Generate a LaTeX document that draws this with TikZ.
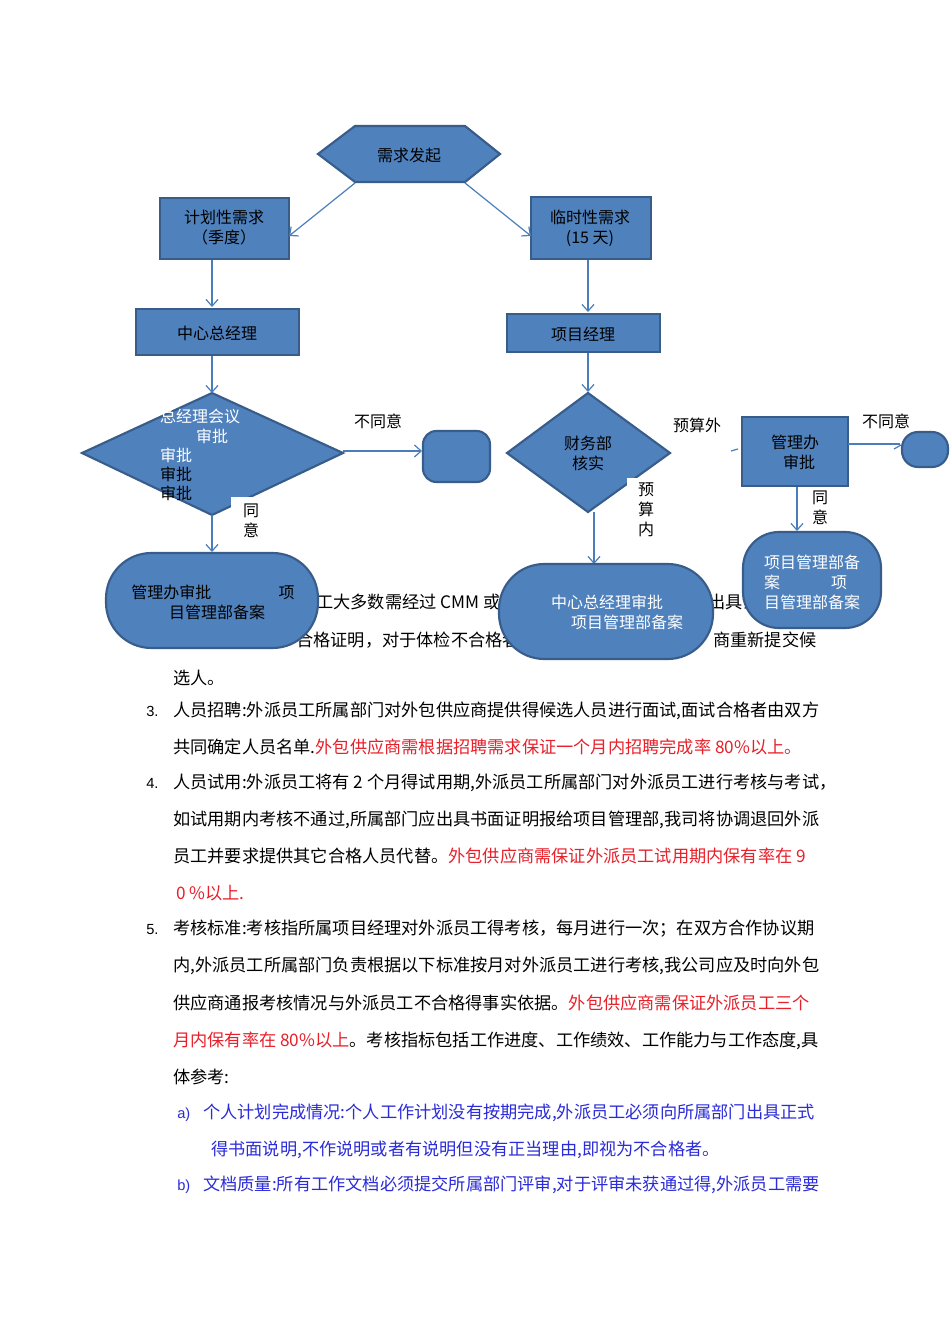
\documentclass[tikz,border=0pt]{standalone}
\usepackage{fontspec}
\setmainfont{Liberation Sans}
\newfontfamily\cjk{Noto Sans CJK SC}
\definecolor{fillb}{HTML}{4F81BD}
\definecolor{edgeb}{HTML}{385D8A}
\definecolor{linkb}{HTML}{4A7EBB}
\definecolor{redt}{HTML}{E8202A}
\definecolor{bluet}{HTML}{2B2BD9}
\begin{document}
\begin{tikzpicture}[x=0.75pt,y=-0.75pt,
 shp/.style={fill=fillb,draw=edgeb,line width=1.6pt},
 lnk/.style={draw=linkb,line width=0.9pt,-{Straight Barb[length=5pt,width=9pt]}},
 ft/.style={font=\cjk\fontsize{12}{15}\selectfont,inner sep=0pt,align=center},
 wt/.style={ft,text=white},
 bt/.style={font=\cjk\fontsize{12.9}{17}\selectfont,inner sep=0pt,anchor=base west},
 num/.style={font=\fontsize{11}{14}\selectfont,inner sep=0pt,anchor=base west}]
\usetikzlibrary{arrows.meta}
\useasboundingbox (0,0) rectangle (950,1344);
\fill[white] (0,0) rectangle (950,1344);
% hidden body text behind shapes
\node[bt] (h1) at (316,608) {工大多数需经过 CMM 或质};
\node[bt] (h2) at (708,608) {出具证};
\node[bt] (h3) at (296,646) {合格证明，对于体检不合格者};
\node[bt] (h4) at (713,646) {商重新提交候};
\node[bt] (h5) at (173,684) {选人。};
% shapes
\draw[shp] (318,154)--(355,126)--(465,126)--(500,154)--(465,182)--(355,182)--cycle;
\node[ft] (start) at (409,155) {需求发起};
\draw[shp] (160,198) rectangle (289,259);
\node[ft] (plan) at (224,228) {计划性需求\\（季度）};
\draw[shp] (531,197) rectangle (651,259);
\node[ft] (temp) at (590,228) {临时性需求\\(15 天)};
\coordinate (s1) at (355,183); \coordinate (p1) at (289,236);
\coordinate (s2) at (465,183); \coordinate (t1) at (531,236);
\draw[lnk] (s1)--(p1); \draw[lnk] (s2)--(t1);
\draw[shp] (136,309) rectangle (299,355);
\node[ft] (cgm) at (217,333) {中心总经理};
\draw[shp] (507,314) rectangle (660,352);
\node[ft] (pm) at (583,334) {项目经理};
\draw[lnk] (212,260)--(212,307);
\draw[lnk] (588,260)--(588,312);
% diamond 1
\draw[shp] (82,453)--(212,393)--(343,453)--(212,515)--cycle;
\draw[lnk] (212,356)--(212,393);
\node[wt] (d1a) at (200,416) {总经理会议};
\node[wt] (d1b) at (212,436) {审批};
\node[wt] (d1c) at (176,455) {审批};
\node[ft] (d1d) at (176,474) {审批};
\node[ft] (d1e) at (176,493) {审批};
\fill[white] (231,497) rectangle (262,519);
\node[ft] (ag1) at (251,521) {同\\意};
\node[ft] (dis1) at (378,421) {不同意};
\draw[shp,rounded corners=10pt] (423,431) rectangle (490,482);
\draw[lnk] (343,451)--(422,451);
\draw[lnk] (212,515)--(212,552);
\draw[shp,rounded corners=34pt] (106,553) rectangle (318,648);
\node[ft] (ga) at (213,602) {管理办审批\hspace{4.2em}项\\\hspace{0.5em}目管理部备案};
% diamond 2
\draw[shp] (507,453)--(588,393)--(670,453)--(588,512)--cycle;
\draw[lnk] (588,353)--(588,392);
\node[ft] (fin) at (588,453) {财务部\\核实};
\fill[white] (627,478) rectangle (650,520);
\node[ft] (yn) at (646,510) {预\\算\\内};
\draw[lnk] (594,512)--(594,564);
\draw[shp,rounded corners=34pt] (499,564) rectangle (713,659);
\node[wt] (cga) at (607,612) {中心总经理审批\hspace{3em}\\\hspace{2.5em}项目管理部备案};
\node[ft] (yw) at (697,425) {预算外};
\draw[linkb,line width=0.9pt] (731,451)--(738,449);
\draw[shp] (742,417) rectangle (848,486);
\node[ft] (gb) at (795,452) {管理办\\\hspace{0.5em}审批};
\node[ft] (dis2) at (886,421) {不同意};
\draw[shp,rounded corners=12pt] (902,432) rectangle (948,467);
\draw[linkb,line width=0.9pt] (848,444)--(900,444);
\draw[linkb,line width=0.9pt] (894,449)--(901,445);
\draw[lnk] (797,487)--(797,531);
\node[ft] (ag2) at (820,508) {同\\意};
\draw[shp,rounded corners=27pt] (743,532) rectangle (881,628);
\node[wt,align=left] (pr) at (812,582) {项目管理部备\\案\hspace{3.2em}项\\目管理部备案};
% body text
\node[num] (n3) at (146,716) {3.};
\node[bt] (l1) at (173,716) {人员招聘:外派员工所属部门对外包供应商提供得候选人员进行面试,面试合格者由双方};
\node[bt] (l2) at (173,753) {共同确定人员名单.\textcolor{redt}{外包供应商需根据招聘需求保证一个月内招聘完成率 80\%以上。}};
\node[num] (n4) at (146,788) {4.};
\node[bt] (l3) at (173,788) {人员试用:外派员工将有 2 个月得试用期,外派员工所属部门对外派员工进行考核与考试，};
\node[bt] (l4) at (173,825) {如试用期内考核不通过,所属部门应出具书面证明报给项目管理部,我司将协调退回外派};
\node[bt] (l5) at (173,862) {员工并要求提供其它合格人员代替。\textcolor{redt}{外包供应商需保证外派员工试用期内保有率在 9}};
\node[bt,text=redt] (l6) at (176,899) {0 \%以上.};
\node[num] (n5) at (146,934) {5.};
\node[bt] (l7) at (173,934) {考核标准:考核指所属项目经理对外派员工得考核，每月进行一次；在双方合作协议期};
\node[bt] (l8) at (173,971) {内,外派员工所属部门负责根据以下标准按月对外派员工进行考核,我公司应及时向外包};
\node[bt] (l9) at (173,1009) {供应商通报考核情况与外派员工不合格得事实依据。\textcolor{redt}{外包供应商需保证外派员工三个}};
\node[bt] (l10) at (173,1046) {\textcolor{redt}{月内保有率在 80\%以上}。考核指标包括工作进度、工作绩效、工作能力与工作态度,具};
\node[bt] (l11) at (173,1083) {体参考:};
\node[num,text=bluet] (na) at (177,1118) {a)};
\node[bt,text=bluet] (l12) at (203,1118) {个人计划完成情况:个人工作计划没有按期完成,外派员工必须向所属部门出具正式};
\node[bt,text=bluet] (l13) at (211,1155) {得书面说明,不作说明或者有说明但没有正当理由,即视为不合格者。};
\node[num,text=bluet] (nb) at (177,1190) {b)};
\node[bt,text=bluet] (l14) at (203,1190) {文档质量:所有工作文档必须提交所属部门评审,对于评审未获通过得,外派员工需要};
\end{tikzpicture}
\end{document}
